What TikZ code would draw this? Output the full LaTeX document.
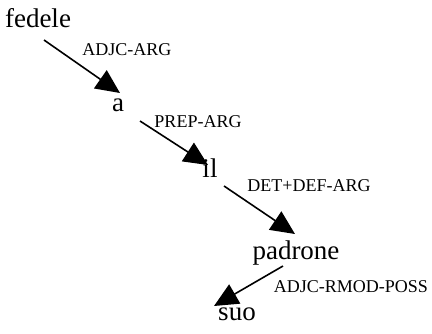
\documentclass[tikz,border=0pt]{standalone}
\usepackage{fontspec}
\setmainfont{Liberation Serif}
\usetikzlibrary{arrows.meta}
\tikzset{
  word/.style={inner sep=0pt, anchor=base, font=\fontsize{27}{31}\selectfont},
  rel/.style={inner sep=0pt, anchor=base, font=\fontsize{18}{21}\selectfont},
  dep/.style={line width=1.6pt, -{Triangle[length=24pt,width=22pt]}},
}
\begin{document}
\begin{tikzpicture}[x=1pt,y=-1pt]
\useasboundingbox (0,0) rectangle (432,333);
\node[word] (fedele) at (38,27) {fedele};
\node[word] (a) at (118,111) {a};
\node[word] (il) at (210,177) {il};
\node[word] (padrone) at (296,259) {padrone};
\node[word] (suo) at (237,320) {suo};
\node[rel] (l1) at (127,55) {ADJC-ARG};
\node[rel] (l2) at (198,127) {PREP-ARG};
\node[rel] (l3) at (309,191) {DET+DEF-ARG};
\node[rel] (l4) at (351,292) {ADJC-RMOD-POSS};
\coordinate (s1) at (44,40);
\coordinate (e1) at (120,93);
\coordinate (s2) at (140,121);
\coordinate (e2) at (208,165);
\coordinate (s3) at (224,186);
\coordinate (e3) at (295,234);
\coordinate (s4) at (283,266);
\coordinate (e4) at (214,306);
\draw[dep] (s1) -- (e1);
\draw[dep] (s2) -- (e2);
\draw[dep] (s3) -- (e3);
\draw[dep] (s4) -- (e4);
\end{tikzpicture}
\end{document}
